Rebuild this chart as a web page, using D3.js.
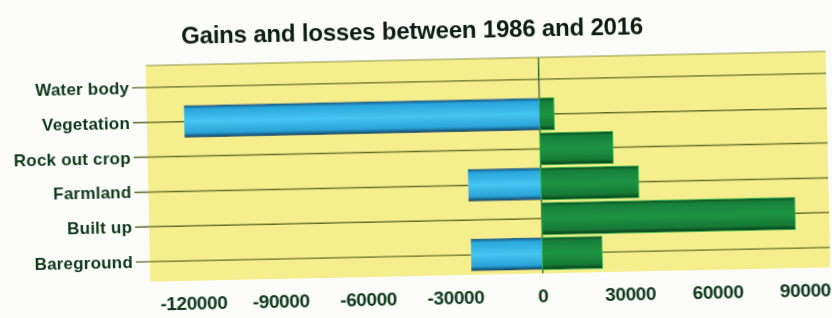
<!DOCTYPE html>
<html>
<head>
<meta charset="utf-8">
<script src="https://cdn.jsdelivr.net/npm/d3@7"></script>
<style>
  html, body { margin: 0; padding: 0; background: #fbfbf9; }
  svg { display: block; }
</style>
</head>
<body>
<div id="chart"></div>
<script>
// categories top to bottom
const categories = ["Water body", "Vegetation", "Rock out crop", "Farmland", "Built up", "Bareground"];
// losses (negative) and gains (positive), 1986-2016
const losses = [0, -122000, 0, -25000, 0, -24500];
const gains = [0, 5000, 25000, 33500, 87000, 20500];
const tickValues = [-120000, -90000, -60000, -30000, 0, 30000, 60000, 90000];

const width = 832;
const height = 318;

const svg = d3.select('#chart')
    .append('svg')
    .attr('width', width)
    .attr('height', height);

const defs = svg.append('defs');

function barGradient(id, stops) {
    const g = defs.append('linearGradient')
        .attr('id', id)
        .attr('x1', 0).attr('y1', 0)
        .attr('x2', 0).attr('y2', 1);
    stops.forEach(([o, c]) => g.append('stop').attr('offset', o).attr('stop-color', c));
}
barGradient('blueGrad', [[0, '#17557f'], [0.12, '#2aa6dc'], [0.5, '#45c5f1'], [0.85, '#2aa3d8'], [1, '#0f3f62']]);
barGradient('greenGrad', [[0, '#0b4d20'], [0.12, '#17803a'], [0.5, '#1f9443'], [0.85, '#157a35'], [1, '#083d19']]);

defs.append('filter').attr('id', 'soft')
    .append('feGaussianBlur').attr('stdDeviation', 0.6);

// the photo is tilted a little
const root = svg.append('g')
    .attr('transform', 'rotate(-1.2, 416, 170)')
    .attr('filter', 'url(#soft)');

const x = d3.scaleLinear()
    .domain([-134800, 98650])
    .range([148, 828]);

const y = d3.scaleBand()
    .domain(categories)
    .range([63, 275])
    .padding(0.08);

const plotTop = 60;
const plotBottom = 276;
const font = 'Liberation Sans, Arial, sans-serif';
const textColor = '#11381c';

// plot background
root.append('rect')
    .attr('x', x.range()[0])
    .attr('y', plotTop)
    .attr('width', x.range()[1] - x.range()[0])
    .attr('height', plotBottom - plotTop)
    .attr('fill', '#f4ef8c');

// top border
root.append('line')
    .attr('x1', x.range()[0]).attr('x2', x.range()[1])
    .attr('y1', plotTop).attr('y2', plotTop)
    .attr('stroke', '#8a9440').attr('stroke-width', 1.2);

// gridlines through category centres
root.append('g')
    .selectAll('line')
    .data(categories)
    .join('line')
    .attr('x1', 134)
    .attr('x2', x.range()[1])
    .attr('y1', d => y(d) + y.bandwidth() / 2)
    .attr('y2', d => y(d) + y.bandwidth() / 2)
    .attr('stroke', '#5f6b22')
    .attr('stroke-width', 1.4);

// zero line
root.append('line')
    .attr('x1', x(0)).attr('x2', x(0))
    .attr('y1', plotTop).attr('y2', plotBottom)
    .attr('stroke', '#2c6a35').attr('stroke-width', 1.5);

// loss bars
root.append('g')
    .selectAll('rect')
    .data(categories.map((c, i) => ({ c, v: losses[i] })).filter(d => d.v !== 0))
    .join('rect')
    .attr('x', d => x(d.v))
    .attr('y', d => y(d.c))
    .attr('width', d => x(0) - x(d.v))
    .attr('height', y.bandwidth())
    .attr('fill', 'url(#blueGrad)');

// gain bars
root.append('g')
    .selectAll('rect')
    .data(categories.map((c, i) => ({ c, v: gains[i] })).filter(d => d.v !== 0))
    .join('rect')
    .attr('x', x(0))
    .attr('y', d => y(d.c))
    .attr('width', d => x(d.v) - x(0))
    .attr('height', y.bandwidth())
    .attr('fill', 'url(#greenGrad)')
    .attr('stroke', '#2fbf4f')
    .attr('stroke-width', 0.8);

// category labels
root.append('g')
    .selectAll('text')
    .data(categories)
    .join('text')
    .attr('x', 131)
    .attr('y', d => y(d) + y.bandwidth() / 2)
    .attr('dy', '0.35em')
    .attr('text-anchor', 'end')
    .style('font-family', font)
    .style('font-weight', 'bold')
    .style('font-size', '17px')
    .style('letter-spacing', '0.2px')
    .style('fill', textColor)
    .text(d => d);

// x tick labels
root.append('g')
    .selectAll('text')
    .data(tickValues)
    .join('text')
    .attr('x', d => x(d))
    .attr('y', 298)
    .attr('dy', '0.35em')
    .attr('text-anchor', 'middle')
    .style('font-family', font)
    .style('font-weight', 'bold')
    .style('font-size', '19px')
    .style('letter-spacing', '-0.4px')
    .style('fill', textColor)
    .text(d => String(d));

// title
root.append('text')
    .attr('x', 415)
    .attr('y', 31)
    .attr('dy', '0.35em')
    .attr('text-anchor', 'middle')
    .style('font-family', font)
    .style('font-weight', 'bold')
    .style('font-size', '24px')
    .style('letter-spacing', '-0.2px')
    .style('fill', '#0d1f12')
    .text('Gains and losses between 1986 and 2016');
</script>
</body>
</html>
